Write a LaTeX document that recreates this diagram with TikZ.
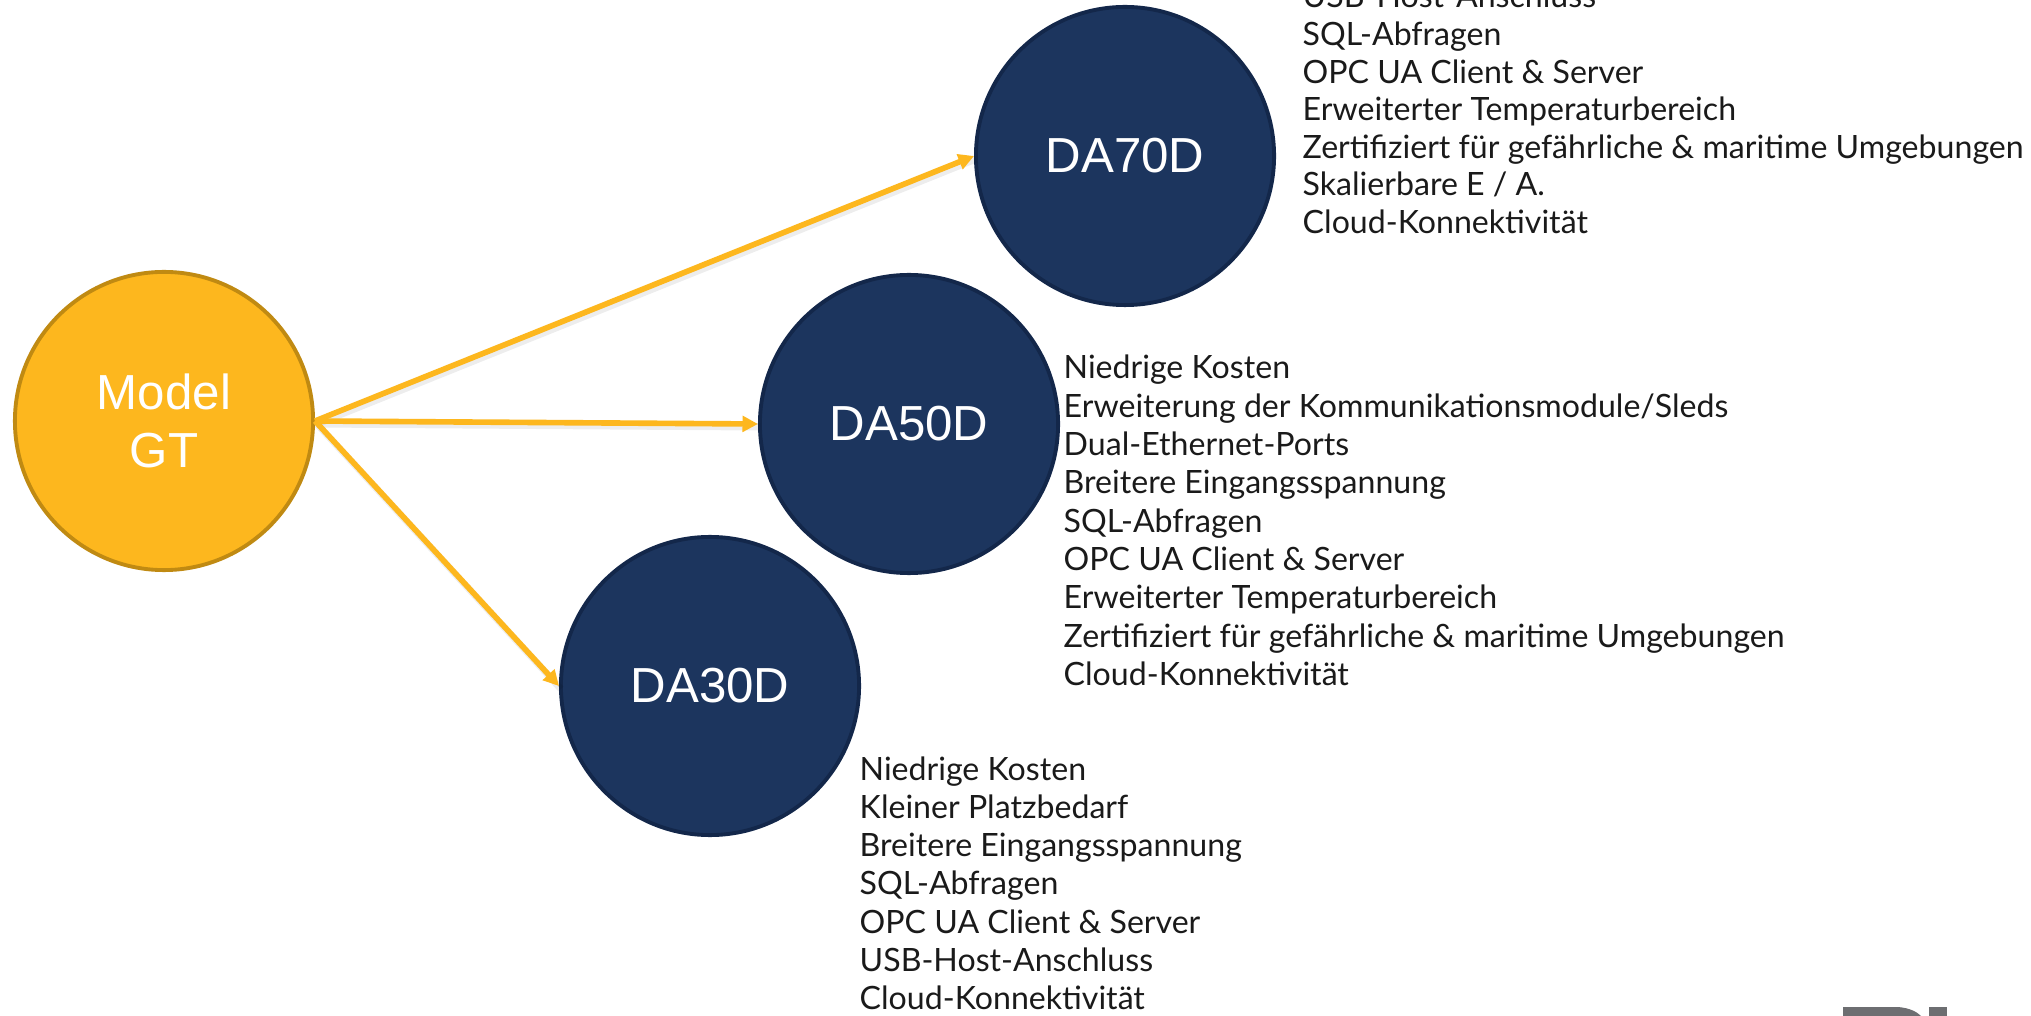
\documentclass[tikz,border=0pt]{standalone}
\usepackage{fontspec}
\setmainfont{Lato}
\newfontfamily\labelfont{Liberation Sans}
\usetikzlibrary{arrows.meta}
\definecolor{gold}{HTML}{FDB71E}
\definecolor{golddark}{HTML}{C08A12}
\definecolor{navy}{HTML}{1C355E}
\definecolor{navydark}{HTML}{13274A}
\definecolor{txt}{HTML}{1A1A1A}
\definecolor{logogray}{HTML}{6D6E71}
\tikzset{
  goldball/.style={circle, minimum size=2.98cm, inner sep=0pt, fill=gold, draw=golddark, line width=1.1pt,
    text=white, font=\labelfont\fontsize{14}{16.5}\selectfont, align=center},
  navyball/.style={circle, minimum size=2.98cm, inner sep=0pt, fill=navy, draw=navydark, line width=1.1pt,
    text=white, font=\labelfont\fontsize{14}{16.5}\selectfont},
  feat/.style={anchor=base west, inner sep=0pt, text=txt, font=\fontsize{9.13}{10.8}\selectfont},
  link/.style={draw=gold, line width=1.6pt, -{Triangle[length=4.4pt,width=4.4pt]}},
  linkshadow/.style={draw=black, opacity=0.07, line width=2pt},
}
\begin{document}
\begin{tikzpicture}[x=0.01cm,y=-0.01cm]
\useasboundingbox (0,0) rectangle (2031,1016);
\fill[white] (0,0) rectangle (2031,1016);

\node[goldball] (gt) at (164,421) {Model\\GT};
\node[navyball] (d70) at (1125,156) {DA70D};
\node[navyball] (d50) at (909,424) {DA50D};
\node[navyball] (d30) at (710,686) {DA30D};

% shadows of connectors
\begin{scope}[transform canvas={shift={(0.02cm,-0.03cm)}}]
\draw[linkshadow] (gt.east) -- (d70.west);
\draw[linkshadow] (gt.east) -- (d50.west);
\draw[linkshadow] (gt.east) -- (d30.west);
\end{scope}
\draw[link] (gt.east) -- (d70.west);
\draw[link] (gt.east) -- (d50.west);
\draw[link] (gt.east) -- (d30.west);

% feature lists
\foreach \t [count=\i from 0] in {USB-Host-Anschluss, SQL-Abfragen, OPC UA Client \& Server,
  Erweiterter Temperaturbereich, Zertifiziert für gefährliche \& maritime Umgebungen,
  Skalierbare E / A., Cloud-Konnektivität}
  \node[feat] (f70-\i) at (1302, 8+37.6*\i) {\t};

\foreach \t [count=\i from 0] in {Niedrige Kosten, Erweiterung der Kommunikationsmodule/Sleds,
  Dual-Ethernet-Ports, Breitere Eingangsspannung, SQL-Abfragen, OPC UA Client \& Server,
  Erweiterter Temperaturbereich, Zertifiziert für gefährliche \& maritime Umgebungen,
  Cloud-Konnektivität}
  \node[feat] (f50-\i) at (1063, 379+38.3*\i) {\t};

\foreach \t [count=\i from 0] in {Niedrige Kosten, Kleiner Platzbedarf, Breitere Eingangsspannung,
  SQL-Abfragen, OPC UA Client \& Server, USB-Host-Anschluss, Cloud-Konnektivität}
  \node[feat] (f30-\i) at (859, 780+38.3*\i) {\t};

% partial logo at bottom right
\fill[logogray] (1843,1007) -- (1898,1007) .. controls (1910,1008) and (1917,1012) .. (1921,1016) -- (1843,1016) -- cycle;
\fill[logogray] (1929,1007) rectangle (1947,1016);
\end{tikzpicture}
\end{document}
